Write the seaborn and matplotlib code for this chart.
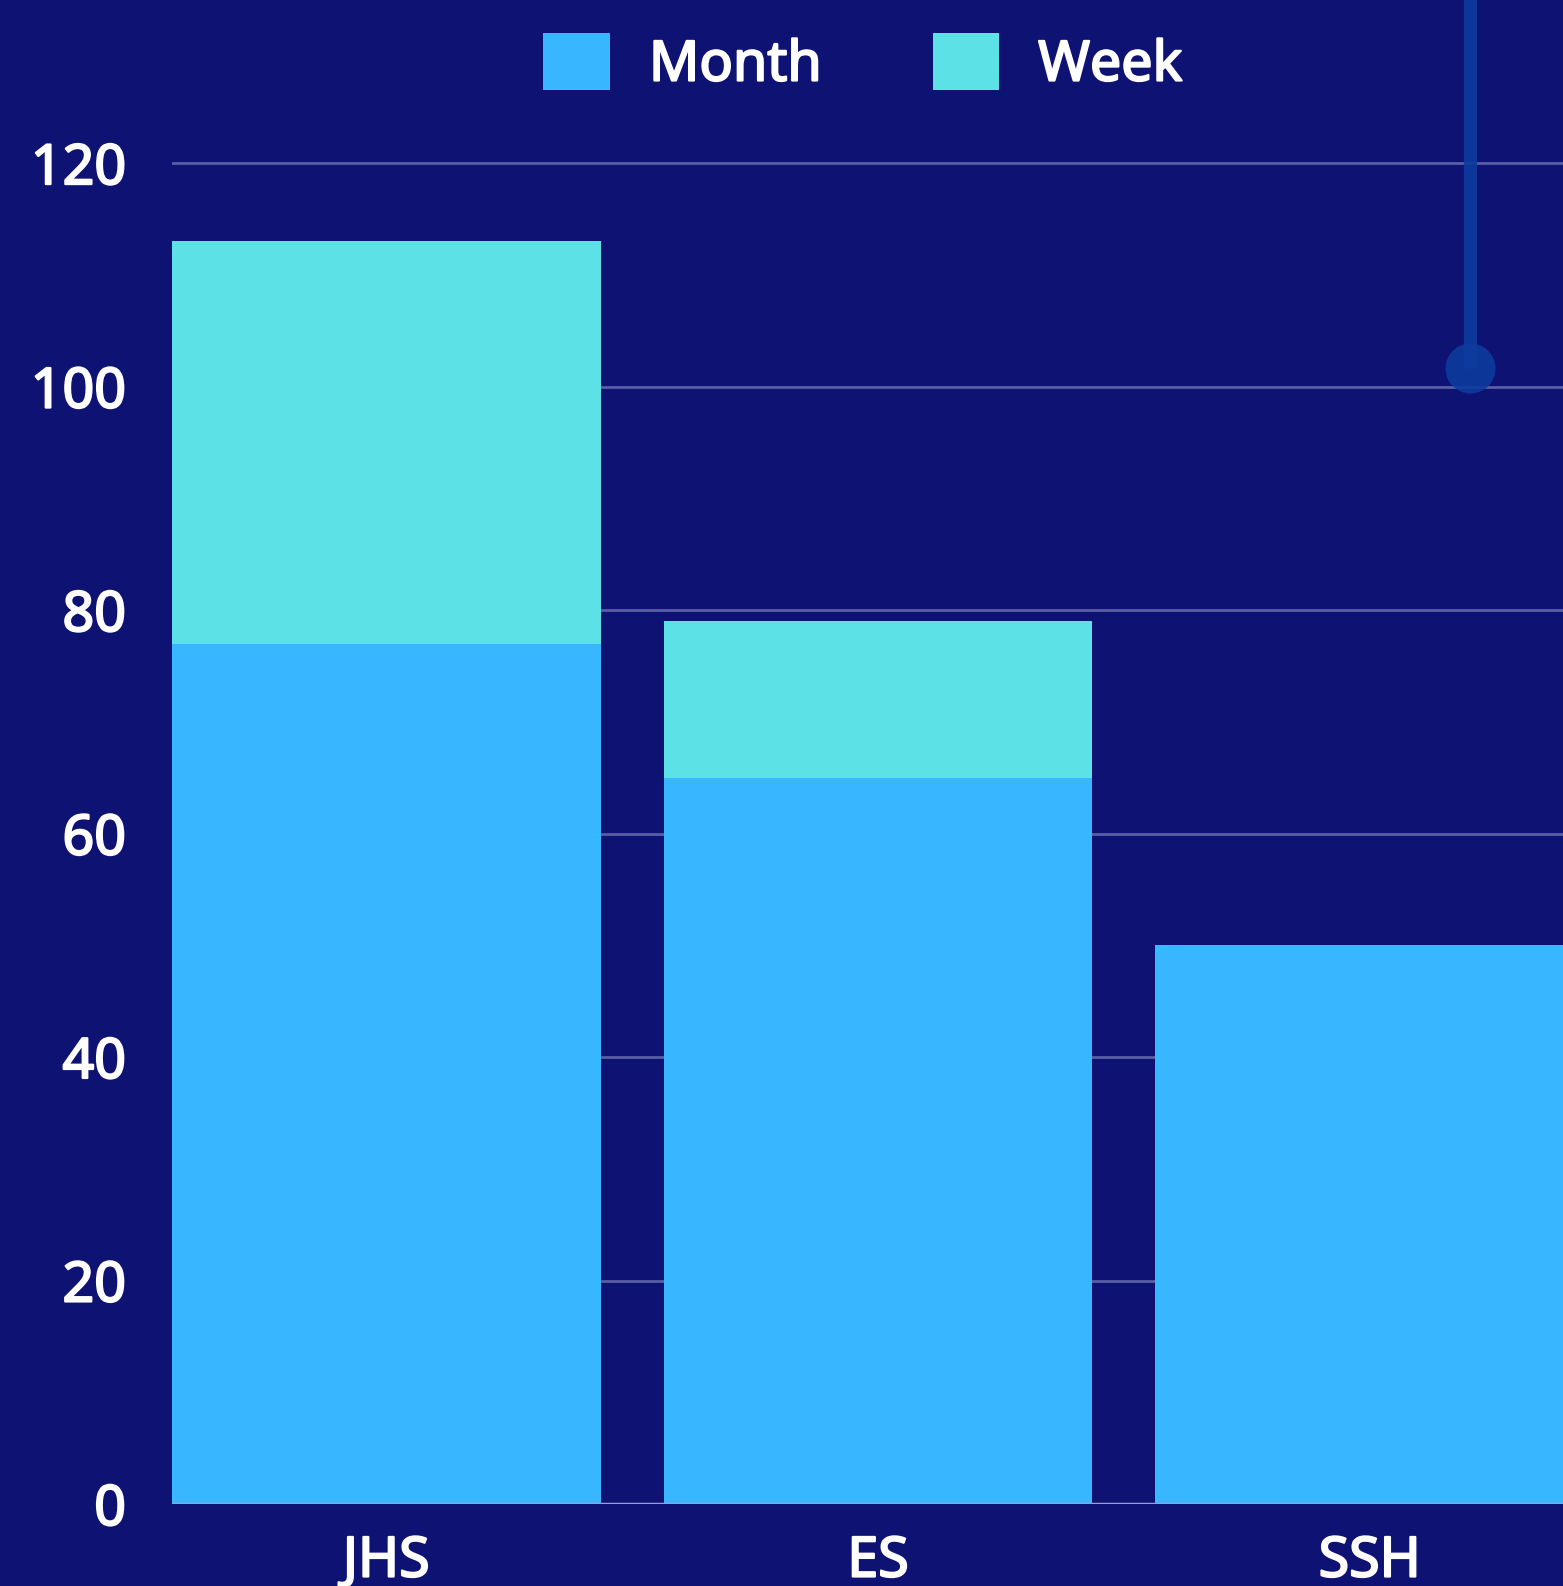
import seaborn as sns
import pandas as pd
import matplotlib.pyplot as plt
import matplotlib.patheffects as pe
from matplotlib.patches import Patch

# data
schools = ['JHS', 'ES', 'SSH']
month = [77, 65, 50]
week = [36, 14, 0]
yticks = [0, 20, 40, 60, 80, 100, 120]
# hover indicator (lollipop marker near SSH)
hover_x = [2.204]
hover_y = [101.7]

month_color = '#38b6ff'
week_color = '#5ce1e6'
bg = '#0e1273'

df = pd.DataFrame({'school': schools, 'Month': month, 'Week': week})
df['total'] = df['Month'] + df['Week']

sns.set_style('dark')
plt.rcParams['font.family'] = ['Noto Sans', 'DejaVu Sans']
thick = [pe.withStroke(linewidth=1.5, foreground='white')]

fig = plt.figure(figsize=(15.63, 15.86), dpi=100)
fig.patch.set_facecolor(bg)
ax = fig.add_axes([0.110, 0.0517, 0.890, 0.9483])
ax.set_facecolor(bg)

sns.barplot(data=df, x='school', y='total', color=week_color, width=0.872,
            saturation=1, ax=ax, zorder=3, linewidth=0, edgecolor='none')
sns.barplot(data=df, x='school', y='Month', color=month_color, width=0.872,
            saturation=1, ax=ax, zorder=3, linewidth=0, edgecolor='none')

ax.set_xlim(-0.436, 2.393)
ax.set_ylim(0, 134.6)
ax.set_yticks(yticks)
ax.set_xlabel('')
ax.set_ylabel('')
for s in ax.spines.values():
    s.set_visible(False)

ax.grid(False)
for v in yticks[1:]:
    ax.axhline(v, color='#8a8fc4', alpha=0.6, lw=2, zorder=1)
ax.axhline(0, color='#9a9dd0', lw=2.5, zorder=4)

ax.tick_params(axis='y', length=0, pad=33, labelsize=40, labelcolor='white')
ax.tick_params(axis='x', length=0, pad=22, labelsize=40, labelcolor='white')
for lab in ax.get_xticklabels() + ax.get_yticklabels():
    lab.set_path_effects(thick)

# hover stem + dot
ax.plot([hover_x[0], hover_x[0]], [hover_y[0], 140], color='#0c3c9e', lw=9.5,
        alpha=0.9, zorder=2, clip_on=False, solid_capstyle='butt')
ax.plot(hover_x, hover_y, 'o', color='#0c3c9e', ms=36, alpha=0.9, zorder=2,
        markeredgewidth=0)

handles = [Patch(facecolor=month_color, edgecolor='none', label='Month'),
           Patch(facecolor=week_color, edgecolor='none', label='Week')]
leg = fig.legend(handles=handles, loc='center', bbox_to_anchor=(0.552, 0.960),
                 ncol=2, frameon=False, fontsize=40, handlelength=1.2,
                 handleheight=1.2, handletextpad=0.7, columnspacing=2.0)
for t in leg.get_texts():
    t.set_color('white')
    t.set_path_effects(thick)

fig.savefig('out.png', dpi=100, facecolor=bg)
